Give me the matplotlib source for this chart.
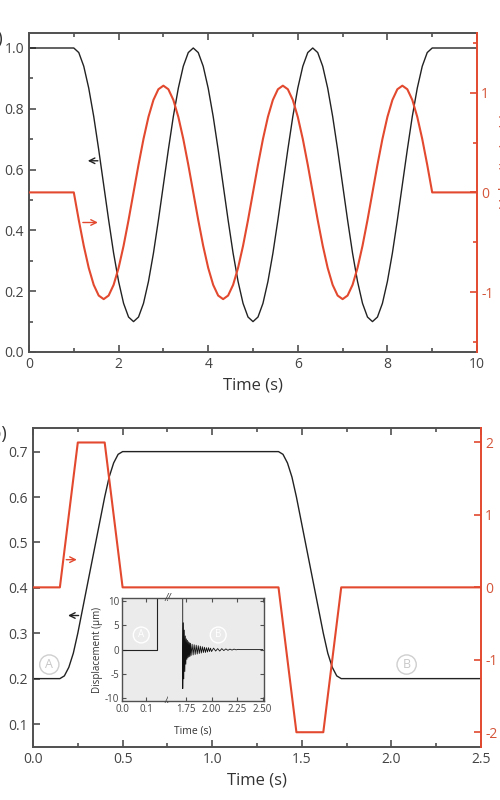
import numpy as np
import matplotlib
matplotlib.use("Agg")
import matplotlib.pyplot as plt
from matplotlib.ticker import MultipleLocator

plt.rcParams['font.family'] = ['Open Sans', 'DejaVu Sans']
plt.rcParams['axes.unicode_minus'] = False

# kleuren
GRAY = '#505050'
RED = '#e2492f'
RED_TXT = '#d4553a'

# ---- data paneel (a): positie (zwart) en snelheid (rood), 1/9 s stappen tussen 1 en 9 s
t_osc = 1 + np.arange(73) / 9.0
t_a = np.concatenate(([0.0], t_osc, [10.0]))

pos_cycle = [1.000, 0.985, 0.940, 0.868, 0.775, 0.666, 0.550, 0.434, 0.325, 0.232, 0.160, 0.115,
             0.100, 0.115, 0.160, 0.232, 0.325, 0.434, 0.550, 0.666, 0.775, 0.868, 0.940, 0.985]
vel_cycle = [0.000, -0.277, -0.535, -0.757, -0.927, -1.034, -1.070, -1.034, -0.927, -0.757, -0.535, -0.277,
             0.000, 0.277, 0.535, 0.757, 0.927, 1.034, 1.070, 1.034, 0.927, 0.757, 0.535, 0.277]
pos_a = [1.0] + pos_cycle * 3 + [1.0, 1.0]
vel_a = [0.0] + vel_cycle * 3 + [0.0, 0.0]

# ---- data paneel (b)
t_pos_b = [0.0, 0.15, 0.175, 0.20, 0.225, 0.25, 0.30, 0.35, 0.40, 0.425, 0.45, 0.475, 0.50,
           1.37, 1.395, 1.42, 1.445, 1.47, 1.52, 1.57, 1.62, 1.645, 1.67, 1.695, 1.72, 2.5]
pos_b = [0.2, 0.2, 0.206, 0.225, 0.256, 0.30, 0.40, 0.50, 0.60, 0.644, 0.675, 0.694, 0.70,
         0.70, 0.694, 0.675, 0.644, 0.60, 0.50, 0.40, 0.30, 0.256, 0.225, 0.206, 0.20, 0.20]
t_vel_b = [0.0, 0.15, 0.25, 0.40, 0.50, 1.37, 1.47, 1.62, 1.72, 2.5]
vel_b = [0, 0, 2, 2, 0, 0, -2, -2, 0, 0]

# inset: verplaatsing (um) rond start (A) en einde (B)
t_ins_a = [0.0, 0.145, 0.145]
d_ins_a = [0.0, 0.0, 14.0]
t_ins_b = np.concatenate(([1.718], 1.7185 + np.arange(16) * 0.005,
                          1.80 + np.arange(20) * 0.01, 2.00 + np.arange(16) * 0.02, [2.5]))
d_ins_b = [14.0,
           -8.0, 5.5, -6.0, 4.0, -4.5, 2.8, -3.0, 2.2, -2.0, 1.9, -1.7, 1.6, -1.5, 1.4, -1.4, 1.3,
           -1.2, 1.1, -1.1, 1.0, -1.0, 0.9, -0.9, 0.8, -0.8, 0.7, -0.7, 0.6, -0.6, 0.5, -0.6, 0.4,
           -0.5, 0.4, -0.4, 0.3,
           -0.4, 0.3, -0.3, 0.2, -0.3, 0.2, -0.2, 0.15, -0.15, 0.1, -0.1, 0.1, -0.05, 0.05, 0.0, 0.0,
           0.0]

fig = plt.figure(figsize=(5, 8), dpi=100)


def style_axes(ax, size=10):
    for s in ax.spines.values():
        s.set_color(GRAY)
        s.set_linewidth(1.4)
    ax.tick_params(which='both', direction='in', colors=GRAY, labelcolor='#444444',
                   labelsize=size, top=True, right=False, width=1.2)
    ax.tick_params(which='major', length=5)
    ax.tick_params(which='minor', length=3)


def style_right(ax2, size=10):
    for k, s in ax2.spines.items():
        s.set_visible(k == 'right')
    ax2.spines['right'].set_color(RED)
    ax2.spines['right'].set_linewidth(1.4)
    ax2.tick_params(which='both', direction='in', colors=RED, labelcolor=RED_TXT,
                    labelsize=size, width=1.2, pad=3)
    ax2.tick_params(which='major', length=5)
    ax2.tick_params(which='minor', length=3)


# ================= paneel (a)
ax = fig.add_axes([0.058, 0.56, 0.896, 0.399])
ax2 = ax.twinx()
ax.plot(t_a, pos_a, color='#222222', lw=1.0)
ax2.plot(t_a, vel_a, color=RED, lw=1.5)
ax.set_xlim(0, 10)
ax.set_ylim(0, 1.05)
ax2.set_ylim(-1.6, 1.6)
ax.xaxis.set_major_locator(MultipleLocator(2))
ax.xaxis.set_minor_locator(MultipleLocator(1))
ax.yaxis.set_major_locator(MultipleLocator(0.2))
ax.yaxis.set_minor_locator(MultipleLocator(0.1))
ax.yaxis.set_major_formatter(matplotlib.ticker.FormatStrFormatter('%.1f'))
ax2.yaxis.set_major_locator(MultipleLocator(1))
ax2.yaxis.set_minor_locator(MultipleLocator(0.5))
style_axes(ax)
style_right(ax2)
ax.spines['right'].set_visible(False)
ax.set_xlabel('Time (s)', fontsize=12, color='#333333', labelpad=4)
ax.annotate('', xy=(1.25, 0.629), xytext=(1.6, 0.629),
            arrowprops=dict(arrowstyle='->', color='#222222', lw=1.0))
ax.annotate('', xy=(1.6, 0.426), xytext=(1.14, 0.426),
            arrowprops=dict(arrowstyle='->', color=RED, lw=1.0))
fig.text(-0.035, 0.951, '(a)', fontsize=13, color='#333333', va='center')
fig.text(-0.034, 0.78, 'Position (m)', fontsize=11, color='#333333', rotation=90,
         va='center', ha='left')
fig.text(0.997, 0.80, 'Velocity (m/s)', fontsize=11, color=RED_TXT, rotation=90,
         va='center', ha='left')

# ================= paneel (b)
bx = fig.add_axes([0.066, 0.0666, 0.896, 0.3984])
bx2 = bx.twinx()
bx.plot(t_pos_b, pos_b, color='#222222', lw=1.0)
bx2.plot(t_vel_b, vel_b, color=RED, lw=1.5)
bx.set_xlim(0, 2.5)
bx.set_ylim(0.05, 0.752)
bx2.set_ylim(-2.2, 2.2)
bx.xaxis.set_major_locator(MultipleLocator(0.5))
bx.xaxis.set_minor_locator(MultipleLocator(0.25))
bx.yaxis.set_major_locator(MultipleLocator(0.1))
bx.xaxis.set_major_formatter(matplotlib.ticker.FormatStrFormatter('%.1f'))
bx.yaxis.set_major_formatter(matplotlib.ticker.FormatStrFormatter('%.1f'))
bx2.yaxis.set_major_locator(MultipleLocator(1))
style_axes(bx)
style_right(bx2)
bx.spines['right'].set_visible(False)
bx.set_xlabel('Time (s)', fontsize=12, color='#333333', labelpad=4)
bx.annotate('', xy=(0.18, 0.339), xytext=(0.27, 0.339),
            arrowprops=dict(arrowstyle='->', color='#222222', lw=1.0))
bx.annotate('', xy=(0.26, 0.462), xytext=(0.17, 0.462),
            arrowprops=dict(arrowstyle='->', color=RED, lw=1.0))
circ = dict(boxstyle='circle,pad=0.25', fc='none', ec='#cfcfcf', lw=1.0)
bx.text(0.091, 0.231, 'A', fontsize=9, color='#c8c8c8', ha='center', va='center', bbox=circ)
bx.text(2.085, 0.231, 'B', fontsize=9, color='#c8c8c8', ha='center', va='center', bbox=circ)
fig.text(-0.03, 0.458, '(b)', fontsize=13, color='#333333', va='center')
fig.text(-0.037, 0.28, 'Position (m)', fontsize=11, color='#333333', rotation=90,
         va='center', ha='left')

# ================= inset met onderbroken tijdas
ia = fig.add_axes([0.244, 0.124, 0.0926, 0.128], facecolor='#ebebeb')
ib = fig.add_axes([0.3366, 0.124, 0.1914, 0.128], facecolor='#ebebeb')
ia.plot(t_ins_a, d_ins_a, color='#222222', lw=0.8)
ib.plot(t_ins_b, d_ins_b, color='#111111', lw=0.6)
ia.set_xlim(0, 0.19)
ib.set_xlim(1.577, 2.513)
for a in (ia, ib):
    a.set_ylim(-10.5, 10.5)
    a.yaxis.set_major_locator(MultipleLocator(5))
    for s in a.spines.values():
        s.set_color(GRAY)
        s.set_linewidth(1.0)
    a.tick_params(which='both', direction='in', colors=GRAY, labelcolor='#444444',
                  labelsize=7, top=True, width=0.8, length=3, pad=2)
ia.spines['right'].set_visible(False)
ib.spines['left'].set_visible(False)
ia.tick_params(right=False)
ib.tick_params(left=False, labelleft=False, right=True)
ia.xaxis.set_major_locator(MultipleLocator(0.1))
ia.xaxis.set_major_formatter(matplotlib.ticker.FormatStrFormatter('%.1f'))
ib.set_xticks([1.75, 2.00, 2.25, 2.50])
ib.xaxis.set_major_formatter(matplotlib.ticker.FormatStrFormatter('%.2f'))
ia.set_ylabel('Displacement (\u00b5m)', fontsize=7, color='#333333', labelpad=1)
fig.text(0.385, 0.086, 'Time (s)', fontsize=7.5, color='#333333', ha='center', va='center')
for yy in (1.0, 0.0):
    ia.text(1.0, yy, '//', transform=ia.transAxes, fontsize=7, color='#444444',
            ha='center', va='center', style='italic')
ccirc = dict(boxstyle='circle,pad=0.25', fc='none', ec='#ffffff', lw=1.0)
ia.text(0.079, 3.0, 'A', fontsize=7, color='#ffffff', ha='center', va='center', bbox=ccirc)
ib.text(2.065, 3.0, 'B', fontsize=7, color='#ffffff', ha='center', va='center', bbox=ccirc)

fig.savefig('out.png', dpi=100)
